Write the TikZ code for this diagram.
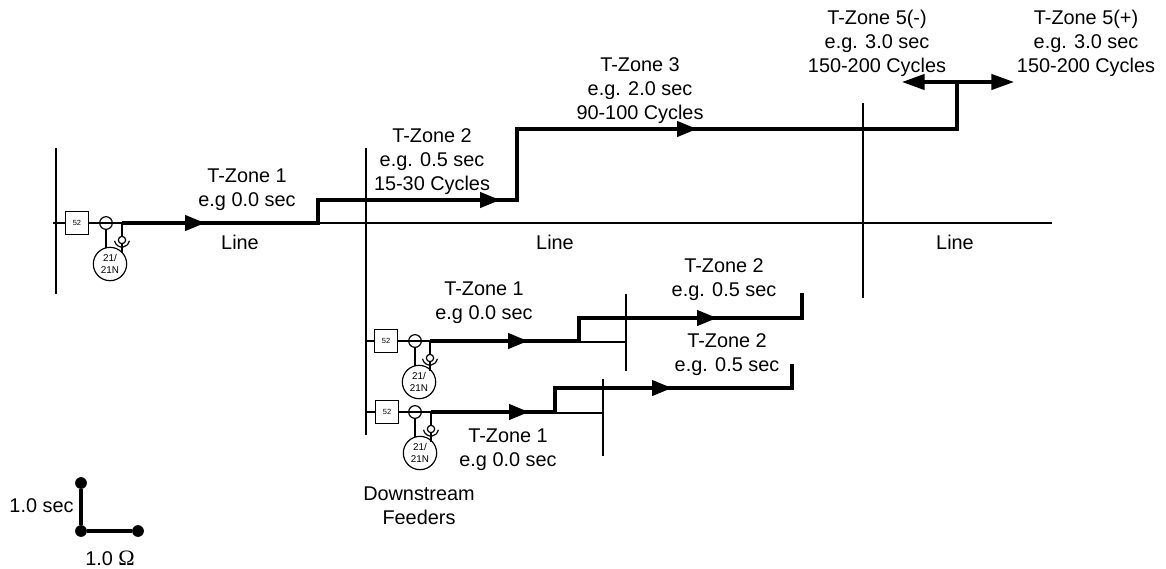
\documentclass[tikz,border=0pt]{standalone}
\usepackage{fontspec}
\setmainfont{Liberation Sans}
\newfontfamily\omegafont{Liberation Serif}
\usetikzlibrary{arrows.meta}
\tikzset{
  x=0.75pt,y=-0.75pt,
  thinline/.style={line width=0.9pt,black},
  thickline/.style={line width=2.5pt,black,line cap=butt,line join=miter},
  midtip/.style={thickline,-{Triangle[length=15pt,width=11.5pt]}},
  endtip/.style={thickline,-{Triangle[length=17pt,width=11.5pt]}},
  lbl/.style={font=\fontsize{14.9pt}{18pt}\selectfont,inner sep=0pt,align=center},
  brk/.style={draw,thinline,fill=white,minimum size=17.5pt,inner sep=0pt,font=\fontsize{5.6pt}{6pt}\selectfont},
  ct/.style={circle,draw,thinline,fill=none,minimum size=9.5pt,inner sep=0pt},
  vt/.style={circle,draw,thinline,fill=white,minimum size=5.5pt,inner sep=0pt},
  relay/.style={circle,draw,thinline,fill=white,minimum size=25pt,inner sep=0pt,align=center,font=\fontsize{7.4pt}{9.4pt}\selectfont},
  dotn/.style={circle,fill=black,minimum size=8.8pt,inner sep=0pt},
}
% #1 prefix, #2 bus-tap y, #3 box x, #4 ct x, #5 relay x, #6 vt x, #7 bus x
\newcommand{\relayset}[7]{
  \coordinate (#1tap) at (#7,#2);
  \node[brk] (#1box) at (#3,#2) {52};
  \node[ct] (#1ct) at (#4,#2) {};
  \node[relay] (#1rel) at (#5,#2+41) {21/\\21N};
  \node[vt] (#1vt) at (#6,#2+17) {};
  \coordinate (#1vtr) at (#6,#2);
  \draw[thinline] (#1tap) -- (#1box);
  \draw[thinline] (#1box) -- (#1vtr);
  \draw[thinline] (#1ct) -- (#4,#2+25);
  \draw[thinline] (#1vtr) -- (#1vt);
  \draw[thinline] (#1vt) -- (#6,#2+30);
  \draw[thinline] ([xshift=-5.6pt,yshift=-0.6pt]#1vt.center) arc[start angle=190,end angle=350,radius=5.7pt];
}
\begin{document}
\begin{tikzpicture}
\useasboundingbox (0,0) rectangle (1166,568);

% buses
\coordinate (b1t) at (56,148); \coordinate (b1b) at (56,294);
\coordinate (b2t) at (366,148); \coordinate (b2b) at (366,435);
\coordinate (b3t) at (863,103); \coordinate (b3b) at (863,298);
\draw[thinline] (b1t) -- (b1b);
\draw[thinline] (b2t) -- (b2b);
\draw[thinline] (b3t) -- (b3b);

% main line
\coordinate (l0) at (318,223); \coordinate (l1) at (1052,223);
\draw[thinline] (l0) -- (l1);

% relays
\relayset{a}{223}{77}{106}{110}{122}{53}
\relayset{f}{341}{386}{415}{419}{430}{366}
\relayset{g}{412}{387}{415}{420}{431}{366}

% main zones
\coordinate (z0) at (122,223);
\coordinate (z1a) at (205,223);
\coordinate (z2) at (318,200);
\coordinate (z2a) at (500,200);
\coordinate (z3) at (517,200);
\coordinate (z4) at (517,129);
\coordinate (z4a) at (697,129);
\coordinate (z5) at (957,129);
\coordinate (z6) at (957,82);
\coordinate (z7) at (902,82);
\coordinate (z8) at (1014,82);
\draw[thickline] (z0) -| (z2) -- (z3) -- (z4) -- (z5) -- (z6);
\draw[midtip] (z0) -- (z1a);
\draw[midtip] (z2) -- (z2a);
\draw[midtip] (z4) -- (z4a);
\draw[endtip] (z6) -- (z7);
\draw[endtip] (z6) -- (z8);

% feeder 1
\coordinate (f0) at (430,341);
\coordinate (f1) at (528,341);
\coordinate (f2) at (579,341);
\coordinate (f3) at (579,318);
\coordinate (f4) at (717,318);
\coordinate (f5) at (802,318);
\coordinate (f6) at (802,293);
\coordinate (fe) at (626,342);
\coordinate (fbt) at (626,294); \coordinate (fbb) at (626,371);
\draw[thinline] (f2 |- fe) -- (fe);
\draw[thinline] (fbt) -- (fbb);
\draw[thickline] (f0) -- (f2) -- (f3) -- (f5) -- (f6);
\draw[midtip] (f0) -- (f1);
\draw[midtip] (f3) -- (f4);

% feeder 2
\coordinate (g0) at (431,412);
\coordinate (g1) at (529,412);
\coordinate (g2) at (555,412);
\coordinate (g3) at (555,388);
\coordinate (g4) at (672,388);
\coordinate (g5) at (792,388);
\coordinate (g6) at (792,364);
\coordinate (ge) at (603,413);
\coordinate (gbt) at (603,379); \coordinate (gbb) at (603,456);
\draw[thinline] (g2 |- ge) -- (ge);
\draw[thinline] (gbt) -- (gbb);
\draw[thickline] (g0) -- (g2) -- (g3) -- (g5) -- (g6);
\draw[midtip] (g0) -- (g1);
\draw[midtip] (g3) -- (g4);

% labels
\node[lbl] (t1) at (247,189.5) {T-Zone 1\\e.g 0.0 sec};
\node[lbl] (ln1) at (240,242) {Line};
\node[lbl] (t2) at (432,162) {T-Zone 2\\e.g. 0.5 sec\\15-30 Cycles};
\node[lbl] (ln2) at (555,242) {Line};
\node[lbl] (ln3) at (955,242) {Line};
\node[lbl] (t3) at (640,90.5) {T-Zone 3\\e.g. 2.0 sec\\90-100 Cycles};
\node[lbl] (t5m) at (877,43.5) {T-Zone 5(-)\\e.g. 3.0 sec\\150-200 Cycles};
\node[lbl] (t5p) at (1086,43.5) {T-Zone 5(+)\\e.g. 3.0 sec\\150-200 Cycles};
\node[lbl] (f1t) at (484,303) {T-Zone 1\\e.g 0.0 sec};
\node[lbl] (f2t) at (724,280) {T-Zone 2\\e.g. 0.5 sec};
\node[lbl] (g2t) at (727,355) {T-Zone 2\\e.g. 0.5 sec};
\node[lbl] (g1t) at (508,450) {T-Zone 1\\e.g 0.0 sec};
\node[lbl] (df) at (419,506) {Downstream\\Feeders};

% scale
\node[dotn] (s1) at (81,483) {};
\node[dotn] (s0) at (81,531) {};
\node[dotn] (s2) at (138,531) {};
\draw[thickline] (s1) -- (s0);
\draw[thickline] (s0) -- (s2);
\node[lbl] (stime) at (41.5,506) {1.0 sec};
\node[lbl] (sohm) at (110,558) {1.0 {\omegafont\fontsize{16.5pt}{18pt}\selectfont Ω}};
\end{tikzpicture}
\end{document}
